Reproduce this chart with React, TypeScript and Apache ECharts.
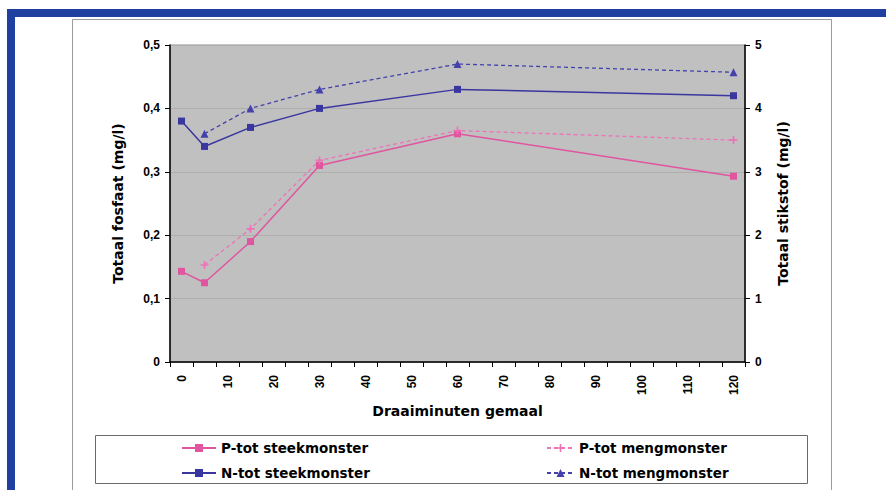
import React, { useEffect, useRef } from "react";
import * as echarts from "echarts";

// Sampling moments along the axis (minutes of pumping), one category per 5 minutes
const categories = [
  "0", "5", "10", "15", "20", "25", "30", "35", "40", "45", "50", "55", "60",
  "65", "70", "75", "80", "85", "90", "95", "100", "105", "110", "115", "120",
];

// Measurement times
const times = ["0", "5", "15", "30", "60", "120"];

// Total phosphate (mg/l), left axis
const pSteekmonster = [0.143, 0.125, 0.19, 0.31, 0.36, 0.293];
const pMengmonster = [null, 0.153, 0.21, 0.318, 0.365, 0.35];

// Total nitrogen (mg/l), right axis
const nSteekmonster = [3.8, 3.4, 3.7, 4.0, 4.3, 4.2];
const nMengmonster = [null, 3.6, 4.0, 4.3, 4.7, 4.57];

const leftTicks = ["0", "0,1", "0,2", "0,3", "0,4", "0,5"];

const TICK_FONT = "Liberation Sans, Arial, sans-serif";
const TITLE_FONT = "DejaVu Sans, Verdana, sans-serif";
const PLUS = "path://M4,0 L6,0 L6,4 L10,4 L10,6 L6,6 L6,10 L4,10 L4,6 L0,6 L0,4 L4,4 Z";

// Spread the measured values over the 5-minute category grid
const toCategories = (vals: (number | null)[]) =>
  categories.map((c) => {
    const i = times.indexOf(c);
    return i >= 0 ? vals[i] : null;
  });

export default function App() {
  const ref = useRef<HTMLDivElement>(null);

  useEffect(() => {
    document.body.style.margin = "0";
    const chart = echarts.init(ref.current!, undefined, { renderer: "svg" });
    const axisLabel = { color: "#000", fontFamily: TICK_FONT, fontWeight: "bold" as const, fontSize: 12 };
    const nameStyle = { color: "#000", fontFamily: TITLE_FONT, fontWeight: "bold" as const, fontSize: 14 };
    const legendText = { color: "#000", fontFamily: TITLE_FONT, fontWeight: "bold" as const, fontSize: 13.5, lineHeight: 14 };

    chart.setOption({
      animation: false,
      backgroundColor: "#ffffff",
      graphic: [
        // blue frame
        { type: "rect", shape: { x: 7, y: 9, width: 879, height: 8 }, style: { fill: "#1f40a0" } },
        { type: "rect", shape: { x: 7, y: 9, width: 8, height: 481 }, style: { fill: "#1f40a0" } },
        // chart area outline
        { type: "rect", shape: { x: 72.5, y: 19.5, width: 759, height: 480 }, style: { fill: "none", stroke: "#9a9a9a", lineWidth: 1 } },
        // legend box
        { type: "rect", shape: { x: 95.5, y: 435.5, width: 712, height: 48 }, style: { fill: "none", stroke: "#6a6a6a", lineWidth: 1 } },
      ],
      grid: {
        left: 170,
        top: 45,
        right: 141,
        bottom: 128,
        show: true,
        backgroundColor: "#c0c0c0",
        borderColor: "#8c8c8c",
        borderWidth: 1,
      },
      legend: [
        {
          data: ["P-tot steekmonster", "N-tot steekmonster"],
          orient: "vertical",
          left: 176,
          top: 436,
          itemWidth: 34,
          itemHeight: 10,
          itemGap: 11,
          textStyle: legendText,
        },
        {
          data: ["P-tot mengmonster", "N-tot mengmonster"],
          orient: "vertical",
          left: 541,
          top: 436,
          itemWidth: 27,
          itemHeight: 10,
          itemGap: 11,
          textStyle: legendText,
        },
      ],
      xAxis: {
        type: "category",
        data: categories,
        boundaryGap: true,
        name: "Draaiminuten gemaal",
        nameLocation: "middle",
        nameGap: 42,
        nameTextStyle: nameStyle,
        axisLine: { lineStyle: { color: "#000", width: 1.5 } },
        axisTick: { show: true, interval: 0, length: 5, lineStyle: { color: "#000" } },
        axisLabel: { ...axisLabel, interval: 1, rotate: 90, margin: 13 },
        splitLine: { show: false },
      },
      yAxis: [
        {
          type: "value",
          min: 0,
          max: 0.5,
          interval: 0.1,
          position: "left",
          name: "Totaal fosfaat (mg/l)",
          nameLocation: "middle",
          nameRotate: 90,
          nameGap: 45,
          nameTextStyle: nameStyle,
          axisLine: { show: true, lineStyle: { color: "#000", width: 1.5 } },
          axisTick: { show: true, length: 5, lineStyle: { color: "#000" } },
          axisLabel: {
            ...axisLabel,
            margin: 10,
            formatter: (_v: number, i: number) => leftTicks[i],
          },
          splitLine: { show: true, lineStyle: { color: "#aeaeae", width: 1 } },
        },
        {
          type: "value",
          min: 0,
          max: 5,
          interval: 1,
          position: "right",
          name: "Totaal stikstof (mg/l)",
          nameLocation: "middle",
          nameRotate: 90,
          nameGap: 31,
          nameTextStyle: nameStyle,
          axisLine: { show: true, lineStyle: { color: "#000", width: 1.5 } },
          axisTick: { show: true, length: 5, lineStyle: { color: "#000" } },
          axisLabel: { ...axisLabel, margin: 10 },
          splitLine: { show: false },
        },
      ],
      series: [
        {
          name: "P-tot steekmonster",
          type: "line",
          yAxisIndex: 0,
          data: toCategories(pSteekmonster),
          connectNulls: true,
          symbol: "rect",
          symbolSize: 7,
          lineStyle: { color: "#e0559f", width: 1.5 },
          itemStyle: { color: "#e0559f" },
        },
        {
          name: "N-tot steekmonster",
          type: "line",
          yAxisIndex: 1,
          data: toCategories(nSteekmonster),
          connectNulls: true,
          symbol: "rect",
          symbolSize: 7,
          lineStyle: { color: "#3a36a0", width: 1.5 },
          itemStyle: { color: "#3a36a0" },
        },
        {
          name: "P-tot mengmonster",
          type: "line",
          yAxisIndex: 0,
          data: toCategories(pMengmonster),
          connectNulls: true,
          symbol: PLUS,
          symbolSize: 8,
          lineStyle: { color: "#ee72b6", width: 1.3, type: [4, 3] },
          itemStyle: { color: "#ee72b6" },
        },
        {
          name: "N-tot mengmonster",
          type: "line",
          yAxisIndex: 1,
          data: toCategories(nMengmonster),
          connectNulls: true,
          symbol: "triangle",
          symbolSize: 8,
          lineStyle: { color: "#4442aa", width: 1.3, type: [4, 3] },
          itemStyle: { color: "#4442aa" },
        },
      ],
    });
    return () => chart.dispose();
  }, []);

  return (
    <div
      ref={ref}
      style={{ position: "absolute", left: 0, top: 0, width: 886, height: 490 }}
    />
  );
}
